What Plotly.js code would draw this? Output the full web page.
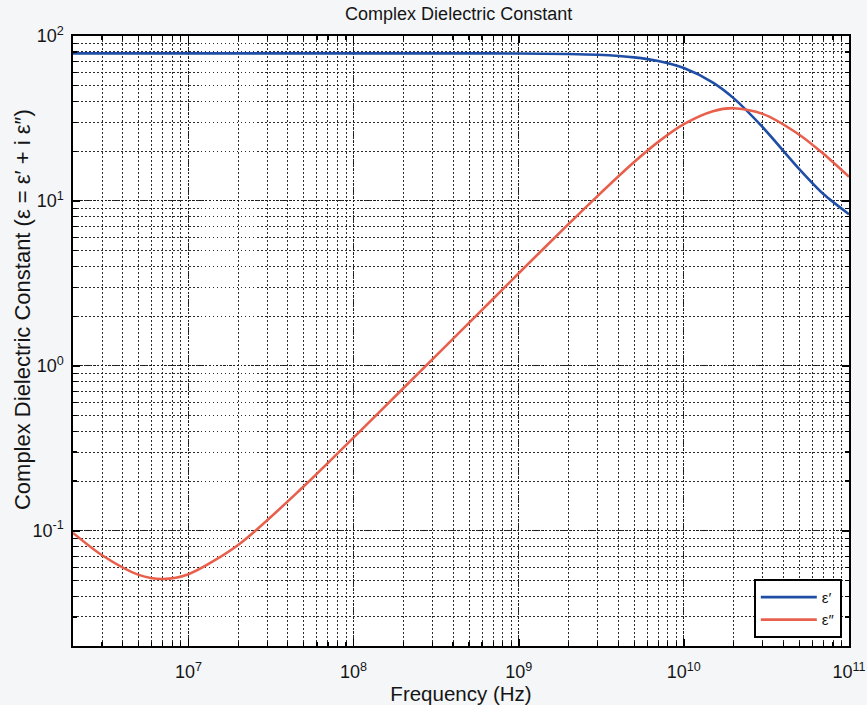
<!DOCTYPE html>
<html>
<head>
<meta charset="utf-8">
<script src="https://cdn.plot.ly/plotly-3.0.1.min.js"></script>
<style>
  html, body { margin: 0; padding: 0; background: #f4f6f8; }
  #chart { width: 867px; height: 705px; }
</style>
</head>
<body>
<div id="chart"></div>
<script>
// Frequency samples (Hz)
const freq = [2e6, 3e6, 5e6, 7e6, 1e7, 2e7, 5e7, 1e8, 2e8, 5e8, 1e9, 2e9, 3e9, 5e9, 7e9,
              1e10, 1.5e10, 2e10, 3e10, 5e10, 7e10, 1e11];
// Real part ε'
const epsReal = [78.5, 78.5, 78.5, 78.5, 78.5, 78.5, 78.5, 78.5, 78.5, 78.45, 78.3, 77.8, 76.9, 74.2, 70.5,
                 63.9, 52.2, 42.0, 28.0, 15.6, 11.0, 8.3];
// Imaginary part ε''
const epsImag = [0.097, 0.071, 0.054, 0.051, 0.0545, 0.082, 0.186, 0.367, 0.731, 1.82, 3.64, 7.23, 10.7, 17.2, 22.8,
                 29.2, 35.0, 36.5, 33.7, 25.2, 19.3, 14.0];
const seriesNames = ["\u03b5\u2032", "\u03b5\u2033"];

// Decade ticks
const xTickVals = [1e7, 1e8, 1e9, 1e10, 1e11];
const xTickText = ["10<sup>7</sup>", "10<sup>8</sup>", "10<sup>9</sup>", "10<sup>10</sup>", "10<sup>11</sup>"];
const yTickVals = [0.1, 1, 10, 100];
const yTickText = ["10<sup>-1</sup>", "10<sup>0</sup>", "10<sup>1</sup>", "10<sup>2</sup>"];

const font = "Liberation Sans, Arial, sans-serif";
const ink = "#151515";

const traces = [
  { x: freq, y: epsReal, name: seriesNames[0], mode: "lines",
    line: { color: "#1f4ea6", width: 2.6, shape: "spline", smoothing: 0.8 } },
  { x: freq, y: epsImag, name: seriesNames[1], mode: "lines",
    line: { color: "#e8604c", width: 2.6, shape: "spline", smoothing: 0.8 } }
];

const axisCommon = {
  type: "log",
  showline: true, linecolor: "#000", linewidth: 1.6, mirror: "allticks",
  ticks: "inside", ticklen: 7, tickcolor: "#000", tickwidth: 1.6,
  showgrid: true, gridcolor: "#1a1a1a", gridwidth: 1, griddash: "1.5px,2px",
  tickmode: "array",
  zeroline: false,
  tickfont: { family: font, size: 18, color: ink },
  minor: { dtick: "D1", ticks: "inside", ticklen: 4, tickcolor: "#000", tickwidth: 1.2,
           showgrid: true, gridcolor: "#2a2a2a", gridwidth: 1, griddash: "1.5px,2.5px" }
};

const layout = {
  width: 867, height: 705,
  paper_bgcolor: "#f4f6f8", plot_bgcolor: "#ffffff",
  margin: { l: 73, r: 18, t: 36, b: 59 },
  title: { text: "Complex Dielectric Constant", x: 0.529, xanchor: "center", y: 0.99, yanchor: "top",
           font: { family: font, size: 18, color: ink } },
  xaxis: Object.assign({}, axisCommon, {
    range: [Math.log10(2e6), 11],
    tickvals: xTickVals, ticktext: xTickText, ticklabelstandoff: 9,
    title: { text: "Frequency (Hz)", standoff: 0, font: { family: font, size: 20.5, color: ink } }
  }),
  yaxis: Object.assign({}, axisCommon, {
    range: [Math.log10(0.02), 2],
    tickvals: yTickVals, ticktext: yTickText, ticklabelstandoff: 4
  }),
  annotations: [{
    text: "Complex Dielectric Constant (\u03b5 = \u03b5\u2032 + i \u03b5\u2033)",
    xref: "paper", yref: "paper", x: -0.066, y: 0.552, xanchor: "center", yanchor: "middle",
    textangle: -90, showarrow: false,
    font: { family: font, size: 22, color: ink }
  }],
  showlegend: true,
  legend: { x: 0.991, y: 0.013, xanchor: "right", yanchor: "bottom",
            bgcolor: "#ffffff", bordercolor: "#000", borderwidth: 1.8,
            tracegroupgap: 0, itemwidth: 56,
            font: { family: font, size: 15, color: ink } }
};

Plotly.newPlot("chart", traces, layout, { displayModeBar: false, staticPlot: true });
</script>
</body>
</html>
